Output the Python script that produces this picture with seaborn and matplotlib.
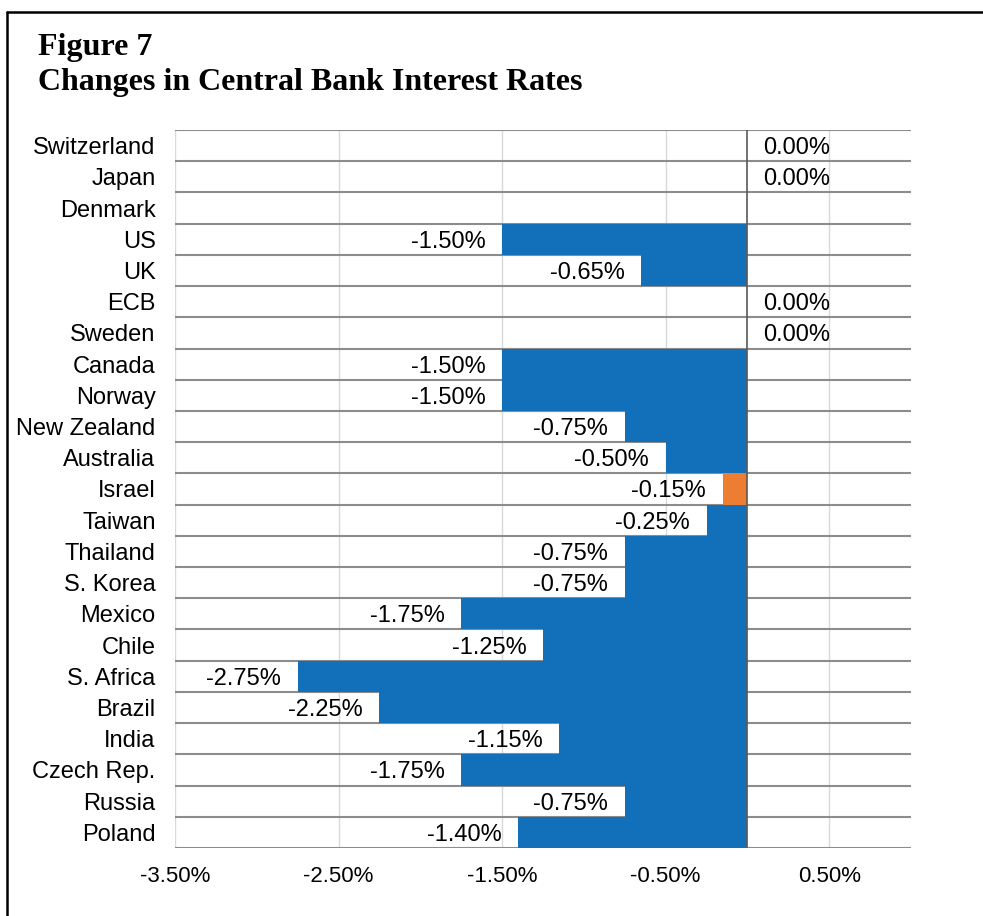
import numpy as np
import pandas as pd
import matplotlib.pyplot as plt
import seaborn as sns
from matplotlib.lines import Line2D
from matplotlib.ticker import FixedLocator, FuncFormatter

# values in percent (Denmark shows no value)
countries = ['Switzerland', 'Japan', 'Denmark', 'US', 'UK', 'ECB', 'Sweden', 'Canada',
             'Norway', 'New Zealand', 'Australia', 'Israel', 'Taiwan', 'Thailand',
             'S. Korea', 'Mexico', 'Chile', 'S. Africa', 'Brazil', 'India',
             'Czech Rep.', 'Russia', 'Poland']
changes = [0.00, 0.00, np.nan, -1.50, -0.65, 0.00, 0.00, -1.50,
           -1.50, -0.75, -0.50, -0.15, -0.25, -0.75,
           -0.75, -1.75, -1.25, -2.75, -2.25, -1.15,
           -1.75, -0.75, -1.40]
highlight = ['Israel']
x_ticks = [-3.5, -2.5, -1.5, -0.5, 0.5]

df = pd.DataFrame({'country': countries, 'change': changes})
df['group'] = np.where(df['country'].isin(highlight), 'hl', 'base')

sns.set_style('white')
plt.rcParams['font.family'] = ['Liberation Sans', 'DejaVu Sans']
plt.rcParams['text.color'] = 'black'

fig = plt.figure(figsize=(9.83, 9.16), dpi=100)
ax = fig.add_axes([175 / 983, 68 / 916, 736 / 983, 718 / 916])

sns.barplot(data=df, x='change', y='country', hue='group', orient='h',
            palette={'base': '#1170b9', 'hl': '#ed7d31'}, width=1.0,
            dodge=False, legend=False, saturation=1, linewidth=0, ax=ax, zorder=2)

ax.set_xlim(-3.5, 1.0)
ax.set_ylim(len(countries) - 0.5, -0.5)
ax.xaxis.set_major_locator(FixedLocator(x_ticks))
ax.xaxis.set_major_formatter(FuncFormatter(lambda v, p: f'{v:.2f}%'))
ax.yaxis.set_minor_locator(FixedLocator(np.arange(-0.5, len(countries), 1.0)))

ax.grid(axis='x', which='major', color='#d9d9d9', linewidth=1.0, zorder=0)
ax.grid(axis='y', which='minor', color='#8c8c8c', linewidth=1.5, zorder=3)
ax.grid(axis='y', which='major', visible=False)
ax.axvline(0, color='#595959', linewidth=1.2, zorder=4)
ax.set_axisbelow(True)

for s in ax.spines.values():
    s.set_visible(False)

ax.tick_params(axis='x', which='both', length=0, pad=13, labelsize=16, labelcolor='black')
ax.tick_params(axis='y', which='both', length=0, pad=14, labelsize=17, labelcolor='black')
ax.set_xlabel('')
ax.set_ylabel('')

# value labels
for i, v in enumerate(changes):
    if np.isnan(v):
        continue
    if v < 0:
        ax.annotate(f'{v:.2f}%', xy=(v, i), xytext=(-12, 0), textcoords='offset points',
                    ha='right', va='center_baseline', fontsize=17, color='black', zorder=5)
    else:
        ax.annotate(f'{v:.2f}%', xy=(v, i), xytext=(11, 0), textcoords='offset points',
                    ha='left', va='center_baseline', fontsize=17, color='black', zorder=5)

# title
fig.text(38 / 983, 1 - 55 / 916, 'Figure 7', family='Liberation Serif',
         fontweight='bold', fontsize=23, va='baseline', ha='left', color='black')
fig.text(38 / 983, 1 - 90 / 916, 'Changes in Central Bank Interest Rates',
         family='Liberation Serif', fontweight='bold', fontsize=23,
         va='baseline', ha='left', color='black')

# frame around the figure (top and left edges visible)
fig.add_artist(Line2D([7 / 983, 1.0], [1 - 12 / 916, 1 - 12 / 916],
                      transform=fig.transFigure, color='black', linewidth=1.8))
fig.add_artist(Line2D([7 / 983, 7 / 983], [0, 1 - 12 / 916],
                      transform=fig.transFigure, color='black', linewidth=1.8))

fig.savefig('out.png', dpi=100)
